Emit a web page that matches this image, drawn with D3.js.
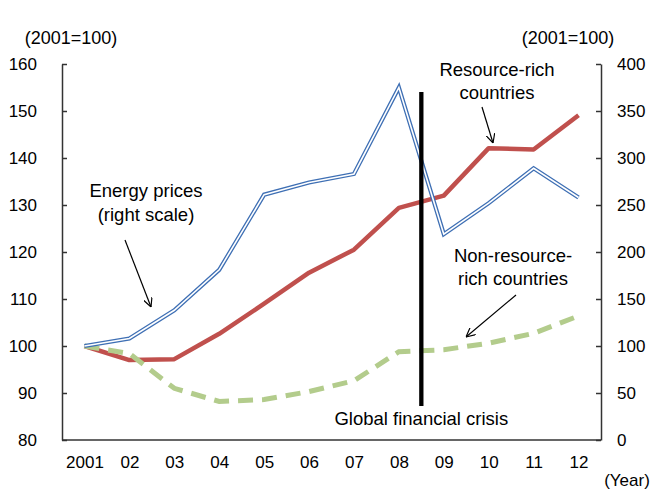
<!DOCTYPE html>
<html>
<head>
<meta charset="utf-8">
<script src="https://cdn.jsdelivr.net/npm/d3@7"></script>
<style>
  html, body { margin: 0; padding: 0; background: #fff; }
  svg text { font-family: "Liberation Sans", Arial, sans-serif; fill: #000; }
</style>
</head>
<body>
<svg id="chart" width="656" height="490"></svg>
<script>
// Years on the horizontal axis
const years = ["2001", "02", "03", "04", "05", "06", "07", "08", "09", "10", "11", "12"];

// Real GDP index, 2001 = 100 (left scale)
const resourceRich = [100, 97.0, 97.2, 102.6, 109.0, 115.6, 120.5, 129.4, 132.0, 142.1, 141.8, 149.1];
const nonResourceRich = [100, 98.4, 91.0, 88.2, 88.6, 90.3, 92.6, 98.8, 99.2, 100.6, 102.7, 106.4];

// Energy price index, 2001 = 100 (right scale)
const energyPrices = [100, 108, 138, 181, 261, 274, 283, 375, 219, 252, 289, 258];

const leftTicks = [80, 90, 100, 110, 120, 130, 140, 150, 160];
const rightTicks = [0, 50, 100, 150, 200, 250, 300, 350, 400];

// The vertical marker sits between 2008 and 2009
const crisisBetween = ["08", "09"];

const svg = d3.select("#chart");
const plotLeft = 62, plotRight = 601, plotTop = 64, plotBottom = 440;

const x = d3.scalePoint().domain(years).range([plotLeft, plotRight]).padding(0.5);
const yL = d3.scaleLinear().domain([80, 160]).range([plotBottom, plotTop]);
const yR = d3.scaleLinear().domain([0, 400]).range([plotBottom, plotTop]);

// Axes
const axisL = svg.append("g").attr("transform", `translate(${plotLeft},0)`)
  .call(d3.axisLeft(yL).tickValues(leftTicks).tickSizeInner(-5).tickSizeOuter(0).tickPadding(25));
const axisR = svg.append("g").attr("transform", `translate(${plotRight},0)`)
  .call(d3.axisRight(yR).tickValues(rightTicks).tickSizeInner(-5).tickSizeOuter(0).tickPadding(16));
const axisB = svg.append("g").attr("transform", `translate(0,${plotBottom})`)
  .call(d3.axisBottom(x).tickSize(0).tickPadding(16));
axisB.select(".domain").attr("d", `M${plotLeft},0H${plotRight}`);

[axisL, axisR, axisB].forEach(g => {
  g.selectAll(".domain").attr("stroke", "#333").attr("stroke-width", 1.5);
  g.selectAll(".tick line").attr("stroke", "#333").attr("stroke-width", 1.5);
  g.selectAll("text").style("font-size", "17px").attr("fill", "#000");
});
axisL.selectAll(".tick text").attr("dy", "0.35em");
axisR.selectAll(".tick text").attr("dy", "0.35em");

// Unit labels
svg.append("text").attr("x", 71).attr("y", 44).attr("text-anchor", "middle")
  .style("font-size", "18px").text("(2001=100)");
svg.append("text").attr("x", 568).attr("y", 44).attr("text-anchor", "middle")
  .style("font-size", "18px").text("(2001=100)");
svg.append("text").attr("x", 627).attr("y", 486).attr("text-anchor", "middle")
  .style("font-size", "17px").text("(Year)");

// Lines
const lineL = d3.line().x((d, i) => x(years[i])).y(d => yL(d));
const lineR = d3.line().x((d, i) => x(years[i])).y(d => yR(d));

svg.append("path").datum(resourceRich).attr("d", lineL)
  .attr("fill", "none").attr("stroke", "#c0504d").attr("stroke-width", 4.5)
  .attr("stroke-linejoin", "round");

svg.append("path").datum(nonResourceRich).attr("d", lineL)
  .attr("fill", "none").attr("stroke", "#b3cc8c").attr("stroke-width", 5)
  .attr("stroke-dasharray", "15,9");

// Energy prices: double line (outer blue, inner white)
svg.append("path").datum(energyPrices).attr("d", lineR)
  .attr("fill", "none").attr("stroke", "#3e6fb4").attr("stroke-width", 4.2)
  .attr("stroke-linejoin", "miter");
svg.append("path").datum(energyPrices).attr("d", lineR)
  .attr("fill", "none").attr("stroke", "#fff").attr("stroke-width", 1.6)
  .attr("stroke-linejoin", "miter");

// Crisis marker
const crisisX = (x(crisisBetween[0]) + x(crisisBetween[1])) / 2;
svg.append("line").attr("x1", crisisX).attr("x2", crisisX).attr("y1", 92).attr("y2", 406)
  .attr("stroke", "#000").attr("stroke-width", 4.3);
svg.append("text").attr("x", crisisX).attr("y", 425).attr("text-anchor", "middle")
  .style("font-size", "18.5px").text("Global financial crisis");

// Annotations
function label(lines, cx, y0, dy) {
  lines.forEach((t, i) => svg.append("text").attr("x", cx).attr("y", y0 + i * dy)
    .attr("text-anchor", "middle").style("font-size", "18.5px").text(t));
}
label(["Energy prices", "(right scale)"], 146, 197, 24);
label(["Resource-rich", "countries"], 497, 76, 23);
label(["Non-resource-", "rich countries"], 513, 262, 23);

const defs = svg.append("defs");
defs.append("marker").attr("id", "arr").attr("viewBox", "0 0 10 10")
  .attr("refX", 10).attr("refY", 5).attr("markerWidth", 9).attr("markerHeight", 9)
  .attr("markerUnits", "userSpaceOnUse").attr("orient", "auto")
  .append("path").attr("d", "M0,0L10,5L0,10").attr("fill", "none").attr("stroke", "#000").attr("stroke-width", 1.3);

function arrow(x1, y1, x2, y2) {
  svg.append("line").attr("x1", x1).attr("y1", y1).attr("x2", x2).attr("y2", y2)
    .attr("stroke", "#000").attr("stroke-width", 1.2).attr("marker-end", "url(#arr)");
}
arrow(125, 240, 151, 307);
arrow(482, 107, 493, 143);
arrow(516, 295, 466, 337);
</script>
</body>
</html>
